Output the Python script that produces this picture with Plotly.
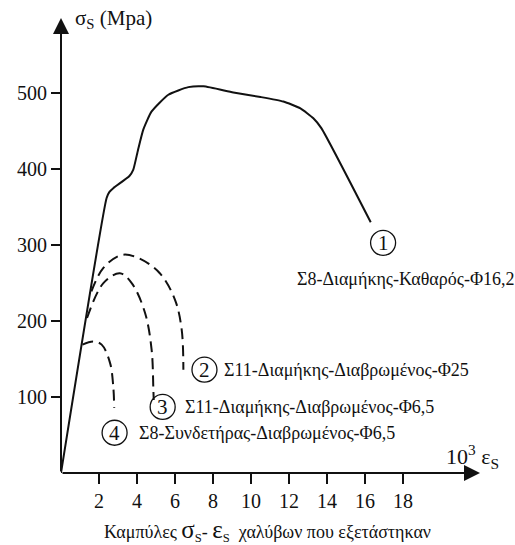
import plotly.graph_objects as go

# ---- data ----
x_c1 = [0, 2.40, 2.55, 2.75, 3.60, 3.80, 4.05, 4.33, 4.77, 5.65, 6.70, 7.50, 9.07, 10.5, 11.7, 12.6, 13.28, 13.7, 16.3]
y_c1 = [0, 362, 370, 375, 391, 399, 425, 452, 476, 498, 508, 509, 501, 495, 489, 480, 467, 454, 330]

x_c2 = [1.60, 2.23, 3.19, 4.07, 5.20, 6.00, 6.35, 6.44]
y_c2 = [239, 270, 287, 283, 263, 228, 189, 136]

x_c3 = [1.37, 2.23, 3.10, 3.72, 4.42, 4.77, 4.86, 4.88]
y_c3 = [204, 250, 263, 250, 211, 162, 110, 96]

x_c4 = [1.13, 1.70, 2.14, 2.58, 2.75, 2.80]
y_c4 = [169, 173, 169, 145, 114, 86]

x_ticks = [2, 4, 6, 8, 10, 12, 14, 16, 18]
y_ticks = [100, 200, 300, 400, 500]

labels = ["Σ8-Διαμήκης-Καθαρός-Φ16,2",
          "Σ11-Διαμήκης-Διαβρωμένος-Φ25",
          "Σ11-Διαμήκης-Διαβρωμένος-Φ6,5",
          "Σ8-Συνδετήρας-Διαβρωμένος-Φ6,5"]
circle_pos = [(16.95, 303), (7.55, 136), (5.35, 87), (2.82, 53)]
label_pos = [(12.32, 256), (8.45, 136), (6.42, 87), (4.0, 53)]

X_MAX = 22.05
Y_MAX = 599

FONT = "Liberation Serif"
INK = "#111111"

fig = go.Figure()
fig.add_trace(go.Scatter(x=x_c1, y=y_c1, mode="lines",
                         line=dict(color=INK, width=2, shape="spline", smoothing=0.5)))
for xs, ys in [(x_c2, y_c2), (x_c3, y_c3), (x_c4, y_c4)]:
    fig.add_trace(go.Scatter(x=xs, y=ys, mode="lines",
                             line=dict(color=INK, width=2, dash="11px,6px", shape="spline", smoothing=1.0)))

# axes with arrows
fig.add_annotation(x=X_MAX, y=0, ax=0, ay=0, axref="x", ayref="y", xref="x", yref="y",
                   text="", showarrow=True, arrowhead=2, arrowsize=1.6, arrowwidth=2,
                   arrowcolor=INK, standoff=0, startstandoff=0)
fig.add_annotation(x=0, y=Y_MAX, ax=0, ay=0, axref="x", ayref="y", xref="x", yref="y",
                   text="", showarrow=True, arrowhead=2, arrowsize=1.6, arrowwidth=2,
                   arrowcolor=INK, standoff=0, startstandoff=0)

# circled numbers and labels
shapes = []
for i, (cx, cy) in enumerate(circle_pos):
    shapes.append(dict(type="circle", xref="x", yref="y", xsizemode="pixel", ysizemode="pixel",
                       xanchor=cx, yanchor=cy, x0=-12.5, x1=12.5, y0=-12.5, y1=12.5,
                       line=dict(color=INK, width=1.3)))
    fig.add_annotation(x=cx, y=cy, xref="x", yref="y", text=str(i + 1), showarrow=False,
                       font=dict(family=FONT, size=21, color=INK), xanchor="center", yanchor="middle")
for txt, (lx, ly) in zip(labels, label_pos):
    fig.add_annotation(x=lx, y=ly, xref="x", yref="y", text=txt, showarrow=False,
                       font=dict(family=FONT, size=18, color=INK), xanchor="left", yanchor="middle")

# axis titles
fig.add_annotation(x=0.028, y=0.998, xref="paper", yref="paper", xanchor="left", yanchor="middle",
                   text="σ<sub>S</sub> (Mpa)", showarrow=False, font=dict(family=FONT, size=21, color=INK))
fig.add_annotation(x=1.05, y=0.036, xref="paper", yref="paper", xanchor="right", yanchor="middle",
                   text="10<sup>3</sup> ε<sub>S</sub>", showarrow=False, font=dict(family=FONT, size=22, color=INK))
fig.add_annotation(x=0.493, y=-0.126, xref="paper", yref="paper", xanchor="center", yanchor="middle",
                   text="Καμπύλες <span style='font-size:25px'>σ</span><sub>S</sub>- "
                        "<span style='font-size:25px'>ε</span><sub>S</sub>  χαλύβων που εξετάστηκαν",
                   showarrow=False, font=dict(family=FONT, size=18, color=INK))

fig.update_layout(
    width=515, height=545,
    margin=dict(l=61, r=35, t=18, b=72, autoexpand=False),
    paper_bgcolor="white", plot_bgcolor="white",
    font=dict(family=FONT, color=INK),
    showlegend=False,
    shapes=shapes,
    xaxis=dict(range=[0, X_MAX], tickvals=x_ticks, ticktext=[str(v) for v in x_ticks],
               showgrid=False, zeroline=False, showline=False, automargin=False,
               ticks="outside", ticklen=10, tickwidth=2, tickcolor=INK,
               tickfont=dict(family=FONT, size=20, color=INK)),
    yaxis=dict(range=[0, Y_MAX], tickvals=y_ticks, ticktext=[str(v) for v in y_ticks],
               showgrid=False, zeroline=False, showline=False, automargin=False,
               ticks="outside", ticklen=9, tickwidth=2, tickcolor=INK,
               tickfont=dict(family=FONT, size=20, color=INK)),
)

fig.write_html("out.html", config={"displayModeBar": False},
               post_script="document.body.style.margin='0';document.body.style.padding='0';")
